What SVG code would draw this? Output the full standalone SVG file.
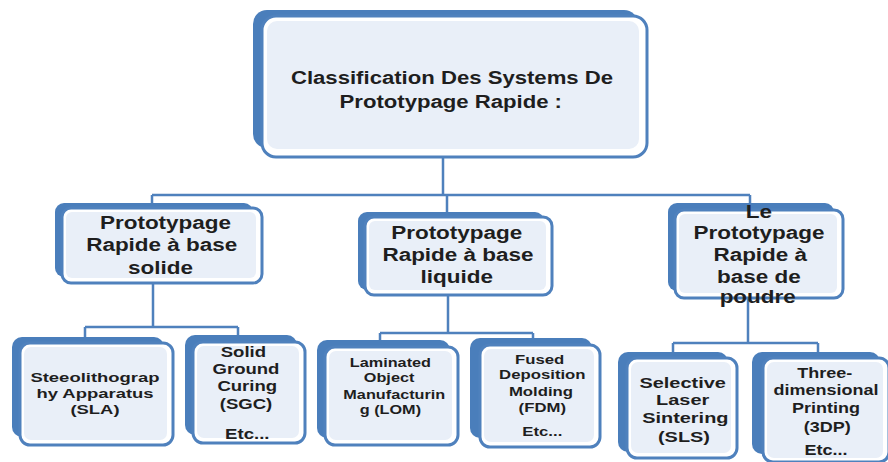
<svg xmlns="http://www.w3.org/2000/svg" width="888" height="462" viewBox="0 0 888 462">
<style>
.sh{fill:#4a7ebb}
.fr{fill:#ffffff;stroke:#4f81bd;stroke-width:3}
.in{fill:#e9eff8}
.t{font-family:"Liberation Sans",Arial,sans-serif;font-weight:bold;fill:#1e1e1e;text-anchor:middle}
.c{fill:none;stroke:#4f81bd;stroke-width:2.5}
</style>
<rect width="888" height="462" fill="#ffffff"/>
<g id="connectors">
<path class="c" d="M443,157V195M152,195H750M152,195V204M447,195V212M750,195V204"/>
<path class="c" d="M153,283V327M85,327H238M85,327V337M238,327V336"/>
<path class="c" d="M448,295V333M380,333H533M380,333V341M533,333V339"/>
<path class="c" d="M748,298V343M673,343H818M673,343V352M818,343V352"/>
</g>
<g id="root">
<rect class="sh" x="253" y="10" width="385" height="138" rx="14"/>
<rect class="fr" x="262" y="16" width="385" height="141" rx="14"/>
<rect class="in" x="267" y="21" width="372" height="128" rx="10"/>
<text class="t" font-size="18" transform="translate(452,0) scale(1.23,1) translate(-452,0)"><tspan x="452" y="84">Classification Des Systems De</tspan><tspan x="451" y="108">Prototypage Rapide :</tspan></text>
</g>
<g id="solide">
<rect class="sh" x="55" y="203" width="198" height="74" rx="9"/>
<rect class="fr" x="62" y="208" width="200" height="75" rx="9"/>
<rect class="in" x="66" y="212" width="190" height="66" rx="6"/>
<text class="t" font-size="18" transform="translate(163,0) scale(1.25,1) translate(-163,0)"><tspan x="165" y="229">Prototypage</tspan><tspan x="162" y="251">Rapide à base</tspan><tspan x="161" y="274">solide</tspan></text>
</g>
<g id="liquide">
<rect class="sh" x="358" y="212" width="186" height="78" rx="9"/>
<rect class="fr" x="365" y="217" width="187" height="78" rx="9"/>
<rect class="in" x="369" y="221" width="177" height="69" rx="6"/>
<text class="t" font-size="18" transform="translate(458,0) scale(1.25,1) translate(-458,0)"><tspan x="457" y="239">Prototypage</tspan><tspan x="458" y="261">Rapide à base</tspan><tspan x="457" y="283">liquide</tspan></text>
</g>
<g id="poudre">
<rect class="sh" x="668" y="203" width="166" height="88" rx="9"/>
<rect class="fr" x="675" y="210" width="168" height="88" rx="9"/>
<rect class="in" x="679" y="214" width="158" height="79" rx="6"/>
<text class="t" font-size="18" transform="translate(759,0) scale(1.25,1) translate(-759,0)"><tspan x="759" y="218">Le</tspan><tspan x="759" y="239">Prototypage</tspan><tspan x="760" y="261">Rapide à</tspan><tspan x="759" y="283">base de</tspan><tspan x="758" y="303">poudre</tspan></text>
</g>
<g id="sla">
<rect class="sh" x="12" y="337" width="152" height="100" rx="10"/>
<rect class="fr" x="20" y="343" width="153" height="102" rx="10"/>
<rect class="in" x="24" y="347" width="143" height="93" rx="7"/>
<text class="t" font-size="13" transform="translate(95,0) scale(1.42,1) translate(-95,0)"><tspan x="95" y="382">Steeolithograp</tspan><tspan x="95" y="398">hy Apparatus</tspan><tspan x="95" y="414">(SLA)</tspan></text>
</g>
<g id="sgc">
<rect class="sh" x="185" y="335" width="112" height="100" rx="10"/>
<rect class="fr" x="193" y="342" width="112" height="101" rx="10"/>
<rect class="in" x="197" y="346" width="102" height="92" rx="7"/>
<text class="t" font-size="14.5" transform="translate(246,0) scale(1.28,1) translate(-246,0)"><tspan x="244" y="357">Solid</tspan><tspan x="246" y="374">Ground</tspan><tspan x="247" y="391">Curing</tspan><tspan x="246" y="409">(SGC)</tspan><tspan x="247" y="439">Etc...</tspan></text>
</g>
<g id="lom">
<rect class="sh" x="317" y="340" width="133" height="98" rx="10"/>
<rect class="fr" x="325" y="347" width="133" height="98" rx="10"/>
<rect class="in" x="329" y="351" width="123" height="89" rx="7"/>
<text class="t" font-size="12.5" transform="translate(393,0) scale(1.3,1) translate(-393,0)"><tspan x="391" y="367">Laminated</tspan><tspan x="390" y="382">Object</tspan><tspan x="394" y="399">Manufacturin</tspan><tspan x="391" y="414">g (LOM)</tspan></text>
</g>
<g id="fdm">
<rect class="sh" x="470" y="338" width="122" height="100" rx="10"/>
<rect class="fr" x="480" y="345" width="120" height="102" rx="10"/>
<rect class="in" x="484" y="349" width="110" height="93" rx="7"/>
<text class="t" font-size="12.5" transform="translate(541,0) scale(1.34,1) translate(-541,0)"><tspan x="540" y="364">Fused</tspan><tspan x="542" y="379">Deposition</tspan><tspan x="541" y="396">Molding</tspan><tspan x="542" y="412">(FDM)</tspan><tspan x="542" y="436">Etc...</tspan></text>
</g>
<g id="sls">
<rect class="sh" x="618" y="352" width="110" height="100" rx="10"/>
<rect class="fr" x="627" y="358" width="110" height="100" rx="10"/>
<rect class="in" x="631" y="362" width="100" height="91" rx="7"/>
<text class="t" font-size="15" transform="translate(684,0) scale(1.33,1) translate(-684,0)"><tspan x="683" y="388">Selective</tspan><tspan x="683" y="405">Laser</tspan><tspan x="685" y="423">Sintering</tspan><tspan x="684" y="442">(SLS)</tspan></text>
</g>
<g id="tdp">
<rect class="sh" x="752" y="352" width="128" height="102" rx="10"/>
<rect class="fr" x="763" y="358" width="126" height="104" rx="10"/>
<rect class="in" x="767" y="362" width="116" height="96" rx="7"/>
<text class="t" font-size="15" transform="translate(826,0) scale(1.2,1) translate(-826,0)"><tspan x="825" y="378">Three-</tspan><tspan x="826" y="395">dimensional</tspan><tspan x="826" y="413">Printing</tspan><tspan x="827" y="432">(3DP)</tspan><tspan x="826" y="455">Etc...</tspan></text>
</g>
</svg>
